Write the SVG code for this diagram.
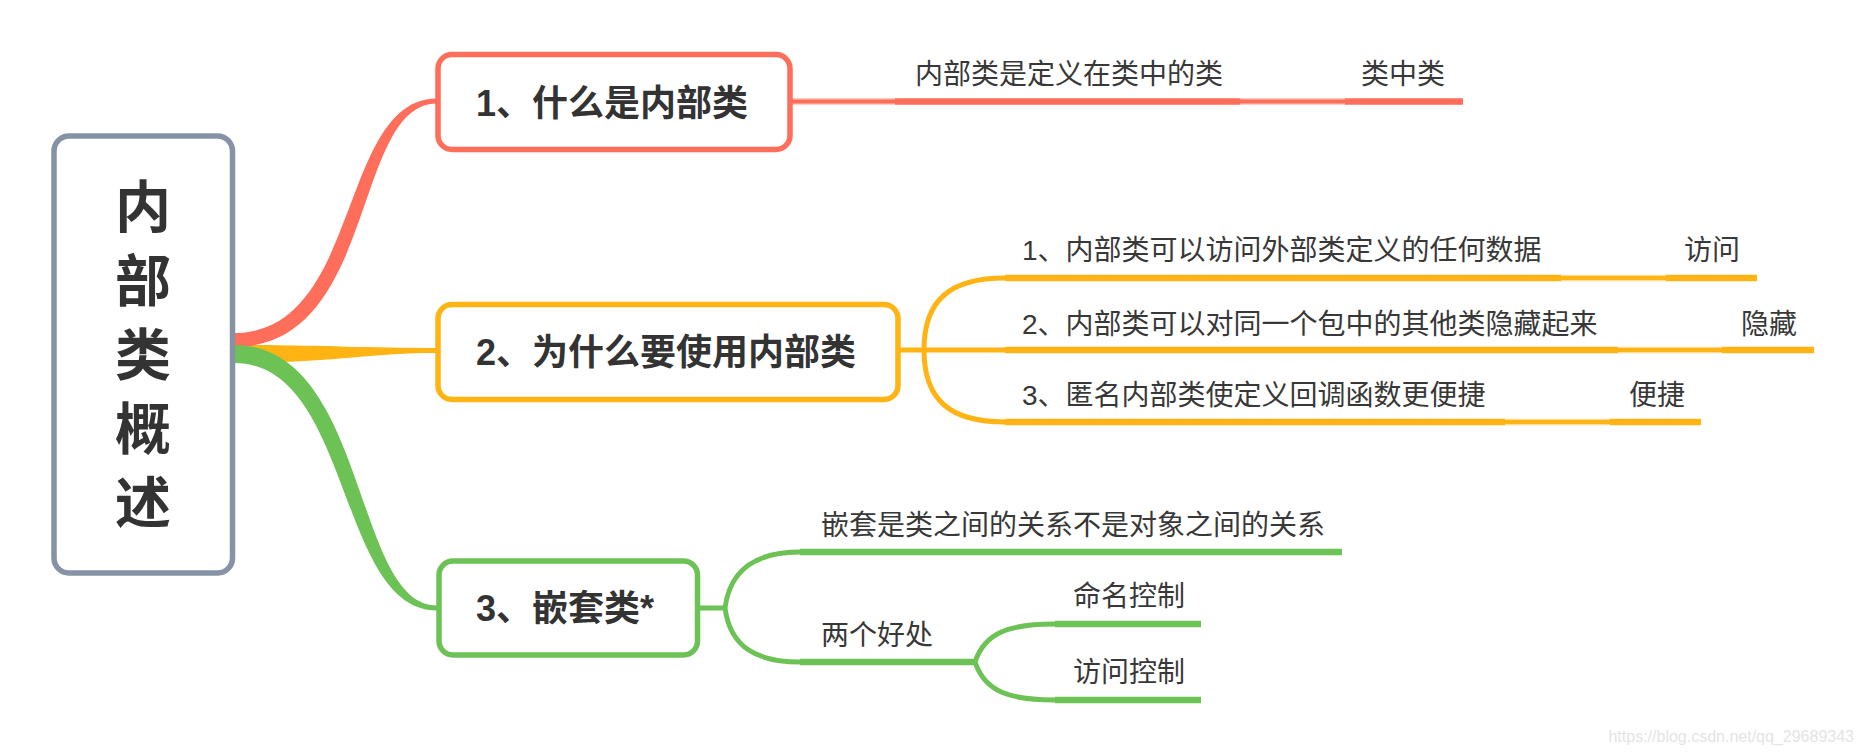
<svg xmlns="http://www.w3.org/2000/svg" width="1864" height="754" viewBox="0 0 1864 754">
<style>
  .box{fill:#fff;stroke-width:5.5}
  .t{font-family:"Liberation Sans","Noto Sans CJK SC",sans-serif;fill:#383838}
  .title{font-size:36px;font-weight:bold;fill:#333}
  .root{font-size:56px;font-weight:bold;fill:#333;text-anchor:middle}
  .lbl{font-size:28px}
  .ln{fill:none;stroke-linecap:butt}
  .red{stroke:#ff6e5a}
  .yel{stroke:#ffb414}
  .grn{stroke:#6cc255}
  .thick{stroke-width:6.5}
  .conn{stroke-width:5}
  .halo{stroke-width:6.5;opacity:0.45}
  .thin{stroke-width:4}
</style>
<rect width="1864" height="754" fill="#fff"/>
<g id="connectors">
  <!-- main branches -->
  <path d="M 234 345 C 320 345, 360 348, 437 348 L 437 353 C 370 353, 330 363, 234 363 Z" fill="#ffb414"/>
  <path d="M 234 333 C 362 333, 338 98.5, 437 98.5 L 437 103.5 C 352 103.5, 378 347, 234 347 Z" fill="#ff6e5a"/>
  <path d="M 234 345 C 368 345, 353 605.5, 437 605.5 L 437 610.5 C 337 610.5, 352 363, 234 363 Z" fill="#6cc255"/>
  <!-- red -->
  <path class="ln red halo" d="M 792 101.5 H 895 M 1240 101.5 H 1345"/>
  <path class="ln red thin" d="M 792 101.5 H 895 M 1240 101.5 H 1345"/>
  <path class="ln red thick" d="M 895 101.5 H 1240 M 1345 101.5 H 1463"/>
  <!-- yellow -->
  <path class="ln yel conn" d="M 898 350 H 1005 M 924 350 C 924 300, 950 278, 1005 278 M 924 350 C 924 400, 950 422, 1005 422"/>
  <path class="ln yel halo" d="M 1561 278 H 1666 M 1618 350 H 1722 M 1505 422 H 1610"/>
  <path class="ln yel thin" d="M 1561 278 H 1666 M 1618 350 H 1722 M 1505 422 H 1610"/>
  <path class="ln yel thick" d="M 1005 278 H 1561 M 1666 278 H 1757 M 1005 350 H 1618 M 1722 350 H 1814 M 1005 422 H 1505 M 1610 422 H 1701"/>
  <!-- green -->
  <path class="ln grn conn" d="M 698 608 H 725 M 725 608 C 730 570, 755 552, 800 552 M 725 608 C 730 646, 755 662, 800 662 M 975 662 C 985 632, 1010 624, 1055 624 M 975 662 C 985 692, 1010 700, 1055 700"/>
  <path class="ln grn thick" d="M 800 552 H 1342 M 800 662 H 975 M 1055 624 H 1201 M 1055 700 H 1201"/>
</g>
<g id="root">
  <rect class="box" x="54" y="136" width="178.5" height="437" rx="15" stroke="#8692a5"/>
  <text class="t root" x="143" y="227">内</text>
  <text class="t root" x="143" y="301">部</text>
  <text class="t root" x="143" y="375">类</text>
  <text class="t root" x="143" y="449">概</text>
  <text class="t root" x="143" y="523">述</text>
</g>
<g id="n1">
  <rect class="box" x="438" y="54.5" width="352" height="95" rx="14" stroke="#ff6e5a"/>
  <text class="t title" x="476" y="116">1、什么是内部类</text>
</g>
<g id="n1a"><text class="t lbl" x="915" y="84">内部类是定义在类中的类</text></g>
<g id="n1b"><text class="t lbl" x="1361" y="84">类中类</text></g>
<g id="n2">
  <rect class="box" x="438" y="304.5" width="460" height="95" rx="14" stroke="#ffb414"/>
  <text class="t title" x="476" y="365">2、为什么要使用内部类</text>
</g>
<g id="n2a"><text class="t lbl" x="1022" y="260">1、内部类可以访问外部类定义的任何数据</text></g>
<g id="n2a1"><text class="t lbl" x="1684" y="260">访问</text></g>
<g id="n2b"><text class="t lbl" x="1022" y="334">2、内部类可以对同一个包中的其他类隐藏起来</text></g>
<g id="n2b1"><text class="t lbl" x="1741" y="334">隐藏</text></g>
<g id="n2c"><text class="t lbl" x="1022" y="405">3、匿名内部类使定义回调函数更便捷</text></g>
<g id="n2c1"><text class="t lbl" x="1629" y="405">便捷</text></g>
<g id="n3">
  <rect class="box" x="439" y="561" width="258.5" height="94" rx="14" stroke="#6cc255"/>
  <text class="t title" x="476" y="621">3、嵌套类*</text>
</g>
<g id="n3a"><text class="t lbl" x="821" y="535">嵌套是类之间的关系不是对象之间的关系</text></g>
<g id="n3b"><text class="t lbl" x="821" y="645">两个好处</text></g>
<g id="n3b1"><text class="t lbl" x="1073" y="606">命名控制</text></g>
<g id="n3b2"><text class="t lbl" x="1073" y="682">访问控制</text></g>
<text x="1854" y="742" text-anchor="end" font-family="Liberation Sans, sans-serif" font-size="16" fill="#e4e4e4">https://blog.csdn.net/qq_29689343</text>
</svg>
